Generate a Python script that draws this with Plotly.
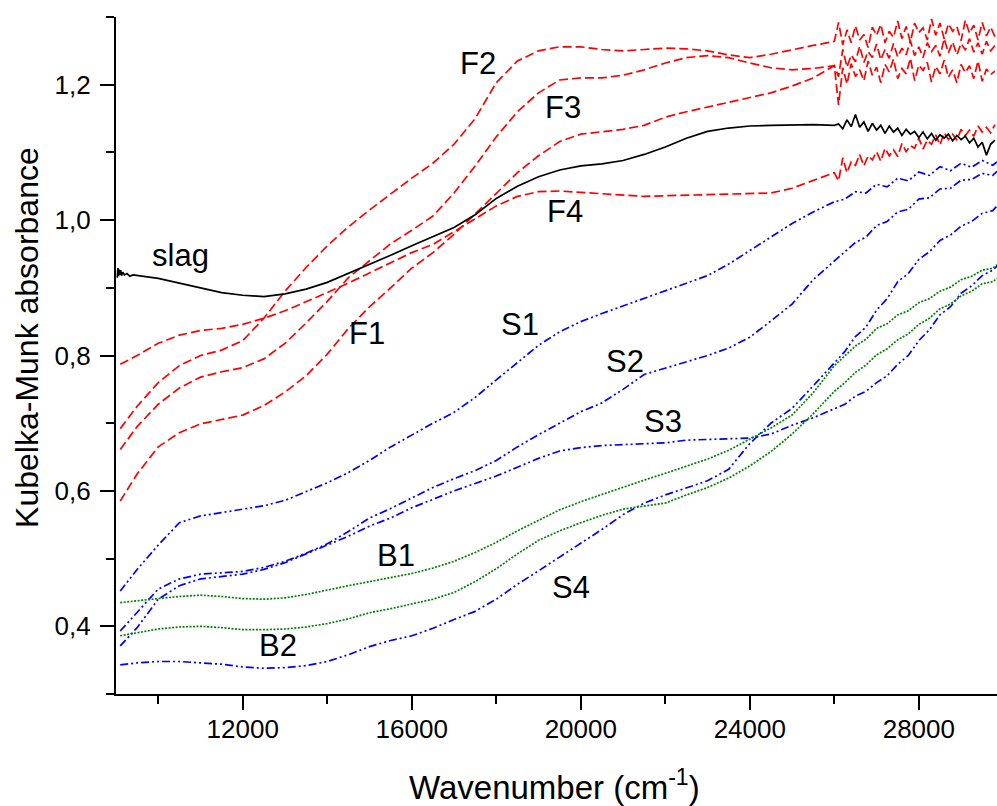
import plotly.graph_objects as go

# ---- wavenumber grids (cm-1) ----
X_SMOOTH = [9100, 9500, 10000, 10500, 11000, 11500, 12000, 12500, 13000, 13500,
            14000, 14500, 15000, 15500, 16000, 16500, 17000, 17500, 18000, 18500,
            19000, 19500, 20000, 20500, 21000, 21500, 22000, 22500, 23000, 23500,
            24000, 24500, 25000, 25500, 26000]
X_TAIL = [26100, 26200, 26300, 26400, 26500, 26600, 26700, 26800, 26900, 27000,
          27100, 27200, 27300, 27400, 27500, 27600, 27700, 27800, 27900, 28000,
          28100, 28200, 28300, 28400, 28500, 28600, 28700, 28800, 28900, 29000,
          29100, 29200, 29300, 29400, 29500, 29600, 29700, 29800]
X_BTAIL = [26250, 26500, 26750, 27000, 27250, 27500, 27750, 28000, 28250, 28500,
           28750, 29000, 29250, 29500, 29750, 29850]

# ---- slag (black) ----
X_SLAG_HEAD = [9030, 9045, 9060, 9075, 9090, 9110, 9130, 9160, 9200, 9260, 9330, 9400]
SLAG_HEAD = [0.915, 0.929, 0.917, 0.927, 0.919, 0.926, 0.918, 0.923, 0.919, 0.921, 0.917, 0.919]
SLAG = [0.914, 0.907, 0.900, 0.893, 0.889, 0.887, 0.891, 0.898,
        0.908, 0.921, 0.934, 0.948, 0.962, 0.976, 0.989, 1.008, 1.032, 1.050,
        1.064, 1.074, 1.080, 1.083, 1.088, 1.097, 1.108, 1.121, 1.131, 1.136,
        1.139, 1.140, 1.141, 1.141, 1.140]
SLAG_TAIL = [1.142, 1.135, 1.148, 1.138, 1.156, 1.137, 1.145, 1.131, 1.143, 1.133,
             1.140, 1.128, 1.139, 1.130, 1.136, 1.125, 1.134, 1.127, 1.131, 1.122,
             1.130, 1.120, 1.128, 1.118, 1.126, 1.121, 1.127, 1.117, 1.125, 1.119,
             1.124, 1.114, 1.121, 1.108, 1.115, 1.096, 1.112, 1.118]

# ---- F series (red) ----
F1 = [0.585, 0.625, 0.665, 0.686, 0.699, 0.706, 0.712, 0.726, 0.746, 0.770,
      0.802, 0.840, 0.872, 0.900, 0.929, 0.952, 0.979, 1.009, 1.040, 1.070,
      1.095, 1.116, 1.127, 1.131, 1.134, 1.140, 1.152, 1.160, 1.167, 1.174,
      1.181, 1.188, 1.198, 1.210, 1.228]
F1_TAIL = [1.170, 1.225, 1.201, 1.231, 1.212, 1.222, 1.206, 1.235, 1.214, 1.226,
           1.203, 1.230, 1.219, 1.238, 1.209, 1.224, 1.216, 1.239, 1.206, 1.229,
           1.221, 1.233, 1.204, 1.227, 1.216, 1.236, 1.211, 1.222, 1.203, 1.230,
           1.218, 1.228, 1.209, 1.235, 1.205, 1.223, 1.215, 1.220]
F2 = [0.692, 0.725, 0.760, 0.785, 0.800, 0.808, 0.822, 0.855, 0.895, 0.930,
      0.962, 0.990, 1.015, 1.039, 1.062, 1.084, 1.112, 1.150, 1.203, 1.235,
      1.250, 1.256, 1.256, 1.252, 1.250, 1.252, 1.254, 1.253, 1.250, 1.244,
      1.240, 1.245, 1.252, 1.258, 1.264]
F2_TAIL = [1.292, 1.259, 1.281, 1.262, 1.287, 1.266, 1.274, 1.255, 1.285, 1.273,
           1.289, 1.262, 1.279, 1.270, 1.294, 1.268, 1.286, 1.263, 1.291, 1.277,
           1.284, 1.266, 1.297, 1.273, 1.291, 1.268, 1.290, 1.279, 1.286, 1.265,
           1.295, 1.276, 1.288, 1.266, 1.292, 1.272, 1.285, 1.271]
F3 = [0.661, 0.695, 0.728, 0.752, 0.768, 0.776, 0.782, 0.795, 0.818, 0.848,
      0.880, 0.915, 0.940, 0.965, 0.985, 1.006, 1.040, 1.080, 1.123, 1.160,
      1.188, 1.207, 1.210, 1.210, 1.214, 1.222, 1.232, 1.240, 1.243, 1.240,
      1.232, 1.225, 1.222, 1.224, 1.228]
F3_TAIL = [1.212, 1.252, 1.226, 1.244, 1.234, 1.257, 1.233, 1.249, 1.240, 1.260,
           1.237, 1.252, 1.239, 1.261, 1.241, 1.254, 1.244, 1.265, 1.243, 1.256,
           1.240, 1.262, 1.249, 1.258, 1.242, 1.268, 1.247, 1.263, 1.244, 1.261,
           1.251, 1.268, 1.248, 1.262, 1.245, 1.264, 1.250, 1.258]
F4 = [0.787, 0.800, 0.818, 0.830, 0.837, 0.840, 0.846, 0.855, 0.866, 0.879,
      0.893, 0.907, 0.922, 0.938, 0.952, 0.964, 0.983, 1.003, 1.021, 1.035,
      1.042, 1.043, 1.041, 1.038, 1.036, 1.035, 1.036, 1.037, 1.038, 1.038,
      1.039, 1.040, 1.047, 1.058, 1.070]
F4_TAIL = [1.058, 1.092, 1.070, 1.086, 1.081, 1.097, 1.080, 1.095, 1.089, 1.101,
           1.087, 1.106, 1.095, 1.104, 1.094, 1.113, 1.101, 1.110, 1.106, 1.121,
           1.105, 1.118, 1.112, 1.126, 1.111, 1.129, 1.119, 1.127, 1.118, 1.134,
           1.125, 1.133, 1.124, 1.139, 1.130, 1.137, 1.129, 1.141]

# ---- S series (blue) ----
S1 = [0.452, 0.484, 0.520, 0.553, 0.563, 0.568, 0.572, 0.578, 0.586, 0.599,
      0.612, 0.627, 0.645, 0.665, 0.683, 0.700, 0.716, 0.738, 0.764, 0.790,
      0.815, 0.835, 0.850, 0.862, 0.873, 0.884, 0.895, 0.906, 0.918, 0.935,
      0.955, 0.975, 0.995, 1.012, 1.027]
S1_TAIL = [1.031, 1.042, 1.040, 1.053, 1.049, 1.062, 1.058, 1.071, 1.066, 1.079,
           1.073, 1.084, 1.078, 1.088, 1.081, 1.086]
S2 = [0.393, 0.420, 0.455, 0.470, 0.477, 0.479, 0.481, 0.487, 0.496, 0.508,
      0.522, 0.540, 0.560, 0.574, 0.590, 0.605, 0.618, 0.630, 0.645, 0.665,
      0.683, 0.700, 0.717, 0.730, 0.750, 0.772, 0.781, 0.790, 0.800, 0.811,
      0.827, 0.851, 0.876, 0.912, 0.940]
S2_TAIL = [0.953, 0.967, 0.975, 0.992, 0.998, 1.012, 1.016, 1.031, 1.033, 1.046,
           1.047, 1.059, 1.060, 1.069, 1.066, 1.072]
S3 = [0.371, 0.398, 0.440, 0.460, 0.470, 0.474, 0.477, 0.484, 0.494, 0.507,
      0.520, 0.533, 0.548, 0.560, 0.575, 0.588, 0.600, 0.611, 0.622, 0.635,
      0.648, 0.659, 0.664, 0.667, 0.668, 0.669, 0.671, 0.675, 0.676, 0.676,
      0.678, 0.684, 0.697, 0.708, 0.722]
S3_TAIL = [0.728, 0.740, 0.747, 0.760, 0.770, 0.787, 0.800, 0.822, 0.838, 0.860,
           0.872, 0.892, 0.903, 0.918, 0.926, 0.932]
S4 = [0.343, 0.346, 0.348, 0.348, 0.346, 0.344, 0.340, 0.338, 0.339, 0.342,
      0.348, 0.358, 0.370, 0.379, 0.386, 0.397, 0.410, 0.422, 0.440, 0.462,
      0.482, 0.502, 0.523, 0.543, 0.565, 0.582, 0.594, 0.604, 0.615, 0.632,
      0.670, 0.700, 0.722, 0.755, 0.790]
S4_TAIL = [0.806, 0.828, 0.842, 0.867, 0.884, 0.909, 0.921, 0.942, 0.953, 0.970,
           0.978, 0.991, 0.998, 1.010, 1.014, 1.021]

# ---- B series (green) ----
B1 = [0.435, 0.438, 0.441, 0.444, 0.446, 0.444, 0.441, 0.440, 0.442, 0.447,
      0.454, 0.460, 0.466, 0.472, 0.478, 0.486, 0.496, 0.509, 0.524, 0.541,
      0.557, 0.572, 0.584, 0.595, 0.606, 0.616, 0.626, 0.637, 0.647, 0.660,
      0.676, 0.693, 0.712, 0.745, 0.785]
B1_TAIL = [0.799, 0.814, 0.824, 0.840, 0.847, 0.860, 0.866, 0.878, 0.884, 0.895,
           0.901, 0.912, 0.917, 0.926, 0.929, 0.934]
B2 = [0.386, 0.390, 0.396, 0.399, 0.400, 0.398, 0.395, 0.395, 0.396, 0.399,
      0.404, 0.411, 0.420, 0.426, 0.433, 0.440, 0.450, 0.466, 0.485, 0.507,
      0.527, 0.541, 0.553, 0.564, 0.573, 0.578, 0.582, 0.594, 0.605, 0.619,
      0.637, 0.658, 0.684, 0.714, 0.747]
B2_TAIL = [0.760, 0.775, 0.786, 0.801, 0.810, 0.823, 0.832, 0.846, 0.855, 0.869,
           0.876, 0.888, 0.895, 0.906, 0.909, 0.914]

# ---- curve labels ----
LABEL_TEXT = ["slag", "F1", "F2", "F3", "F4", "S1", "S2", "S3", "S4", "B1", "B2"]
LABEL_X = [10530, 14930, 17560, 19580, 19620, 18560, 21040, 21940, 19760, 15620, 12830]
LABEL_Y = [0.948, 0.833, 1.231, 1.166, 1.013, 0.846, 0.791, 0.703, 0.458, 0.505, 0.371]

RED, BLACK, BLUE, GREEN = "#ff0000", "#000000", "#0000ff", "#008000"
DASH_F = "9px,4px"
DASH_S = "8px,3px,2px,3px,2px,3px"
DOT_B = "2px,1.5px"
FONT = "Arial, Liberation Sans, sans-serif"

fig = go.Figure()


def add_curve(xs, ys, color, dash, width=1.7):
    fig.add_trace(go.Scatter(x=xs, y=ys, mode="lines",
                             line=dict(color=color, dash=dash, width=width),
                             showlegend=False, hoverinfo="skip"))


for ys, tail in [(F1, F1_TAIL), (F2, F2_TAIL), (F3, F3_TAIL), (F4, F4_TAIL)]:
    add_curve(X_SMOOTH + X_TAIL, ys + tail, RED, DASH_F)

for ys, tail in [(S1, S1_TAIL), (S2, S2_TAIL), (S3, S3_TAIL), (S4, S4_TAIL)]:
    add_curve(X_SMOOTH + X_BTAIL, ys + tail, BLUE, DASH_S)

for ys, tail in [(B1, B1_TAIL), (B2, B2_TAIL)]:
    add_curve(X_SMOOTH + X_BTAIL, ys + tail, GREEN, DOT_B)

add_curve(X_SLAG_HEAD + X_SMOOTH[2:] + X_TAIL, SLAG_HEAD + SLAG + SLAG_TAIL, BLACK, "solid", 1.7)

for t, lx, ly in zip(LABEL_TEXT, LABEL_X, LABEL_Y):
    fig.add_annotation(x=lx, y=ly, text=t, showarrow=False,
                       font=dict(family=FONT, size=31, color="black"),
                       xanchor="center", yanchor="middle")

# axis titles
fig.add_annotation(xref="paper", yref="paper", x=0.498, y=-0.134,
                   text="Wavenumber (cm<sup>-1</sup>)", showarrow=False,
                   font=dict(family=FONT, size=33, color="black"),
                   xanchor="center", yanchor="middle")
fig.add_annotation(xref="paper", yref="paper", x=-0.101, y=0.526,
                   text="Kubelka-Munk absorbance", showarrow=False, textangle=-90,
                   font=dict(family=FONT, size=32, color="black"),
                   xanchor="center", yanchor="middle")

axis_common = dict(showline=True, linecolor="black", linewidth=2.2,
                   ticks="outside", ticklen=14, tickwidth=2, tickcolor="black",
                   showgrid=False, zeroline=False, mirror=False,
                   tickfont=dict(family=FONT, size=26, color="black"))

fig.update_xaxes(range=[9000, 29850], tick0=0, dtick=4000, tickformat="d",
                 minor=dict(ticks="outside", ticklen=8, tickwidth=2, tickcolor="black",
                            tick0=0, dtick=2000),
                 ticklabelstandoff=-3, **axis_common)
fig.update_yaxes(range=[0.3, 1.3], tick0=0, dtick=0.2, tickformat=".1f",
                 minor=dict(ticks="outside", ticklen=8, tickwidth=2, tickcolor="black",
                            tick0=0, dtick=0.1),
                 ticklabelstandoff=4, **axis_common)

fig.update_layout(width=997, height=806, separators=",.",
                  margin=dict(l=116, r=0, t=17, b=112),
                  paper_bgcolor="white", plot_bgcolor="white",
                  font=dict(family=FONT, color="black"))

fig.write_html("out.html")
